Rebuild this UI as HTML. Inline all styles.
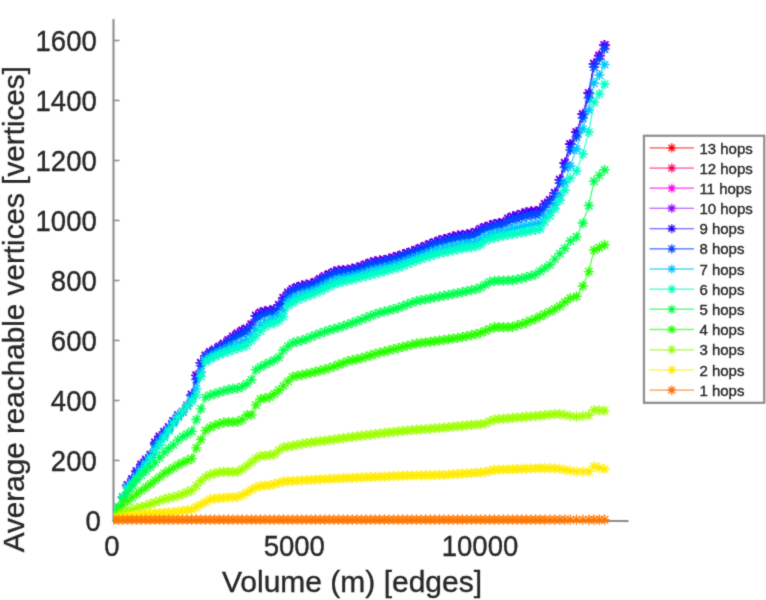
<!DOCTYPE html>
<html><head><meta charset="utf-8"><style>
html,body{margin:0;padding:0;background:#fff;width:766px;height:600px;overflow:hidden}
svg{display:block}
text{font-family:"Liberation Sans",sans-serif;fill:#262626;stroke:#262626;stroke-width:0.35px}
</style></head><body>
<svg width="766" height="600" viewBox="0 0 766 600">
<defs><filter id="bl" filterUnits="userSpaceOnUse" x="0" y="0" width="766" height="600"><feConvolveMatrix order="3" kernelMatrix="1 4 1 4 16 4 1 4 1" preserveAlpha="false"/></filter><filter id="bl2" filterUnits="userSpaceOnUse" x="0" y="0" width="766" height="600"><feConvolveMatrix order="3" kernelMatrix="1 4 1 4 16 4 1 4 1" preserveAlpha="false"/></filter><filter id="tx" filterUnits="userSpaceOnUse" x="0" y="0" width="766" height="600"><feConvolveMatrix order="3" kernelMatrix="1 3 1 3 20 3 1 3 1" preserveAlpha="false"/></filter><clipPath id="cp"><rect x="113" y="10" width="600" height="530"/></clipPath><marker id="m1" markerUnits="userSpaceOnUse" markerWidth="12" markerHeight="12" refX="6" refY="6" overflow="visible"><path d="M0.9 6H11.1M6 0.9V11.1M2.4 2.4L9.7 9.7M2.4 9.7L9.7 2.4" stroke="#ff7600" stroke-width="1.4" fill="none"/></marker>
<marker id="m2" markerUnits="userSpaceOnUse" markerWidth="12" markerHeight="12" refX="6" refY="6" overflow="visible"><path d="M0.9 6H11.1M6 0.9V11.1M2.4 2.4L9.7 9.7M2.4 9.7L9.7 2.4" stroke="#ffeb00" stroke-width="1.4" fill="none"/></marker>
<marker id="m3" markerUnits="userSpaceOnUse" markerWidth="12" markerHeight="12" refX="6" refY="6" overflow="visible"><path d="M0.9 6H11.1M6 0.9V11.1M2.4 2.4L9.7 9.7M2.4 9.7L9.7 2.4" stroke="#9dff00" stroke-width="1.4" fill="none"/></marker>
<marker id="m4" markerUnits="userSpaceOnUse" markerWidth="12" markerHeight="12" refX="6" refY="6" overflow="visible"><path d="M0.9 6H11.1M6 0.9V11.1M2.4 2.4L9.7 9.7M2.4 9.7L9.7 2.4" stroke="#27ff00" stroke-width="1.4" fill="none"/></marker>
<marker id="m5" markerUnits="userSpaceOnUse" markerWidth="12" markerHeight="12" refX="6" refY="6" overflow="visible"><path d="M0.9 6H11.1M6 0.9V11.1M2.4 2.4L9.7 9.7M2.4 9.7L9.7 2.4" stroke="#00ff4e" stroke-width="1.4" fill="none"/></marker>
<marker id="m6" markerUnits="userSpaceOnUse" markerWidth="12" markerHeight="12" refX="6" refY="6" overflow="visible"><path d="M0.9 6H11.1M6 0.9V11.1M2.4 2.4L9.7 9.7M2.4 9.7L9.7 2.4" stroke="#00ffc4" stroke-width="1.4" fill="none"/></marker>
<marker id="m7" markerUnits="userSpaceOnUse" markerWidth="12" markerHeight="12" refX="6" refY="6" overflow="visible"><path d="M0.9 6H11.1M6 0.9V11.1M2.4 2.4L9.7 9.7M2.4 9.7L9.7 2.4" stroke="#00c4ff" stroke-width="1.4" fill="none"/></marker>
<marker id="m8" markerUnits="userSpaceOnUse" markerWidth="12" markerHeight="12" refX="6" refY="6" overflow="visible"><path d="M0.9 6H11.1M6 0.9V11.1M2.4 2.4L9.7 9.7M2.4 9.7L9.7 2.4" stroke="#004eff" stroke-width="1.4" fill="none"/></marker>
<marker id="m9" markerUnits="userSpaceOnUse" markerWidth="12" markerHeight="12" refX="6" refY="6" overflow="visible"><path d="M0.9 6H11.1M6 0.9V11.1M2.4 2.4L9.7 9.7M2.4 9.7L9.7 2.4" stroke="#2700ff" stroke-width="1.4" fill="none"/></marker>
<marker id="m10" markerUnits="userSpaceOnUse" markerWidth="12" markerHeight="12" refX="6" refY="6" overflow="visible"><path d="M0.9 6H11.1M6 0.9V11.1M2.4 2.4L9.7 9.7M2.4 9.7L9.7 2.4" stroke="#9d00ff" stroke-width="1.4" fill="none"/></marker>
<marker id="m11" markerUnits="userSpaceOnUse" markerWidth="12" markerHeight="12" refX="6" refY="6" overflow="visible"><path d="M0.9 6H11.1M6 0.9V11.1M2.4 2.4L9.7 9.7M2.4 9.7L9.7 2.4" stroke="#ff00eb" stroke-width="1.4" fill="none"/></marker>
<marker id="m12" markerUnits="userSpaceOnUse" markerWidth="12" markerHeight="12" refX="6" refY="6" overflow="visible"><path d="M0.9 6H11.1M6 0.9V11.1M2.4 2.4L9.7 9.7M2.4 9.7L9.7 2.4" stroke="#ff0076" stroke-width="1.4" fill="none"/></marker>
<marker id="m13" markerUnits="userSpaceOnUse" markerWidth="12" markerHeight="12" refX="6" refY="6" overflow="visible"><path d="M0.9 6H11.1M6 0.9V11.1M2.4 2.4L9.7 9.7M2.4 9.7L9.7 2.4" stroke="#ff0000" stroke-width="1.4" fill="none"/></marker></defs>
<g filter="url(#tx)"><g font-size="29"><text transform="translate(100.8,530.6) scale(0.950,1)" text-anchor="end">0</text>
<text transform="translate(96.8,470.6) scale(0.950,1)" text-anchor="end">200</text>
<text transform="translate(96.8,410.6) scale(0.950,1)" text-anchor="end">400</text>
<text transform="translate(96.8,350.6) scale(0.950,1)" text-anchor="end">600</text>
<text transform="translate(96.8,290.6) scale(0.950,1)" text-anchor="end">800</text>
<text transform="translate(96.8,230.6) scale(0.950,1)" text-anchor="end">1000</text>
<text transform="translate(96.8,170.6) scale(0.950,1)" text-anchor="end">1200</text>
<text transform="translate(96.8,110.6) scale(0.950,1)" text-anchor="end">1400</text>
<text transform="translate(96.8,50.6) scale(0.950,1)" text-anchor="end">1600</text>
<text transform="translate(112.0,555.6) scale(0.950,1)" text-anchor="middle">0</text>
<text transform="translate(294.3,555.6) scale(0.950,1)" text-anchor="middle">5000</text>
<text transform="translate(480.0,555.6) scale(0.950,1)" text-anchor="middle">10000</text></g>
<text x="352" y="591.8" text-anchor="middle" font-size="30">Volume (m) [edges]</text>
<text transform="translate(23.8,309.2) rotate(-90)" x="0" y="0" text-anchor="middle" font-size="29.7">Average reachable vertices [vertices]</text></g>
<g filter="url(#bl2)"><line x1="113.5" y1="19" x2="113.5" y2="522" stroke="#888" stroke-width="2"/>
<line x1="112.5" y1="521" x2="628.5" y2="521" stroke="#888" stroke-width="2"/>
<line x1="113" y1="520.5" x2="119.5" y2="520.5" stroke="#888" stroke-width="1.5"/>
<line x1="113" y1="460.5" x2="119.5" y2="460.5" stroke="#888" stroke-width="1.5"/>
<line x1="113" y1="400.5" x2="119.5" y2="400.5" stroke="#888" stroke-width="1.5"/>
<line x1="113" y1="340.5" x2="119.5" y2="340.5" stroke="#888" stroke-width="1.5"/>
<line x1="113" y1="280.5" x2="119.5" y2="280.5" stroke="#888" stroke-width="1.5"/>
<line x1="113" y1="220.5" x2="119.5" y2="220.5" stroke="#888" stroke-width="1.5"/>
<line x1="113" y1="160.5" x2="119.5" y2="160.5" stroke="#888" stroke-width="1.5"/>
<line x1="113" y1="100.5" x2="119.5" y2="100.5" stroke="#888" stroke-width="1.5"/>
<line x1="113" y1="40.5" x2="119.5" y2="40.5" stroke="#888" stroke-width="1.5"/></g>
<g filter="url(#bl)" clip-path="url(#cp)"><g transform="translate(0.3,1)"><polyline points="113.5,518.0 118.1,507.7 122.7,496.3 127.3,484.0 131.8,478.0 136.4,470.2 141.0,463.5 145.6,458.5 150.2,453.9 154.8,441.6 159.3,435.5 163.9,430.9 168.5,426.2 173.1,420.2 177.7,414.3 182.3,410.8 186.9,404.5 191.4,393.7 196.0,374.4 200.6,361.8 205.2,354.6 209.8,351.1 214.4,348.4 219.0,345.7 223.5,342.7 228.1,339.1 232.7,335.5 237.3,332.4 241.9,329.5 246.5,327.5 251.1,323.4 255.6,314.6 260.2,311.7 264.8,310.4 269.4,309.6 274.0,308.6 278.6,303.8 283.1,296.8 287.7,291.5 292.3,288.0 296.9,286.2 301.5,284.7 306.1,283.8 310.7,282.9 315.2,280.9 319.8,277.9 324.4,275.2 329.0,273.0 333.6,270.8 338.2,269.7 342.8,269.3 347.3,268.9 351.9,267.9 356.5,266.8 361.1,265.4 365.7,263.4 370.3,261.5 374.8,260.5 379.4,259.7 384.0,259.0 388.6,257.9 393.2,256.5 397.8,255.1 402.4,253.6 406.9,252.1 411.5,250.6 416.1,248.8 420.7,246.9 425.3,244.9 429.9,243.0 434.4,241.0 439.0,239.5 443.6,238.3 448.2,237.0 452.8,235.7 457.4,234.7 462.0,234.0 466.5,233.4 471.1,232.7 475.7,230.9 480.3,227.8 484.9,226.1 489.5,224.5 494.1,223.0 498.6,222.0 503.2,221.5 507.8,217.5 512.4,215.4 517.0,214.5 521.6,212.9 526.1,211.4 530.7,210.7 535.3,210.2 539.9,209.1 544.5,202.8 549.5,198.8 554.5,191.8 559.5,178.6 564.5,161.9 570.0,143.0 576.2,131.0 582.5,113.0 588.5,92.0 593.7,62.7 599.0,54.5 604.2,44.0" fill="none" stroke="#ff0000" stroke-width="1" marker-start="url(#m13)" marker-mid="url(#m13)" marker-end="url(#m13)"/>
<polyline points="113.5,518.0 118.1,507.7 122.7,496.3 127.3,484.0 131.8,478.0 136.4,470.2 141.0,463.5 145.6,458.5 150.2,453.9 154.8,441.6 159.3,435.5 163.9,430.9 168.5,426.2 173.1,420.2 177.7,414.3 182.3,410.8 186.9,404.5 191.4,393.7 196.0,374.4 200.6,361.8 205.2,354.6 209.8,351.1 214.4,348.4 219.0,345.7 223.5,342.7 228.1,339.1 232.7,335.5 237.3,332.4 241.9,329.5 246.5,327.5 251.1,323.4 255.6,314.6 260.2,311.7 264.8,310.4 269.4,309.6 274.0,308.6 278.6,303.8 283.1,296.8 287.7,291.5 292.3,288.0 296.9,286.2 301.5,284.7 306.1,283.8 310.7,282.9 315.2,280.9 319.8,277.9 324.4,275.2 329.0,273.0 333.6,270.8 338.2,269.7 342.8,269.3 347.3,268.9 351.9,267.9 356.5,266.8 361.1,265.4 365.7,263.4 370.3,261.5 374.8,260.5 379.4,259.7 384.0,259.0 388.6,257.9 393.2,256.5 397.8,255.1 402.4,253.6 406.9,252.1 411.5,250.6 416.1,248.8 420.7,246.9 425.3,244.9 429.9,243.0 434.4,241.0 439.0,239.5 443.6,238.3 448.2,237.0 452.8,235.7 457.4,234.7 462.0,234.0 466.5,233.4 471.1,232.7 475.7,230.9 480.3,227.8 484.9,226.1 489.5,224.5 494.1,223.0 498.6,222.0 503.2,221.5 507.8,217.5 512.4,215.4 517.0,214.5 521.6,212.9 526.1,211.4 530.7,210.7 535.3,210.2 539.9,209.1 544.5,202.8 549.5,198.8 554.5,191.8 559.5,178.6 564.5,161.9 570.0,143.0 576.2,131.0 582.5,113.0 588.5,92.0 593.7,62.7 599.0,54.5 604.2,44.0" fill="none" stroke="#ff0076" stroke-width="1" marker-start="url(#m12)" marker-mid="url(#m12)" marker-end="url(#m12)"/>
<polyline points="113.5,518.0 118.1,507.7 122.7,496.3 127.3,484.0 131.8,478.0 136.4,470.2 141.0,463.5 145.6,458.5 150.2,453.9 154.8,441.6 159.3,435.5 163.9,430.9 168.5,426.2 173.1,420.2 177.7,414.3 182.3,410.8 186.9,404.5 191.4,393.7 196.0,374.4 200.6,361.8 205.2,354.6 209.8,351.1 214.4,348.4 219.0,345.7 223.5,342.7 228.1,339.1 232.7,335.5 237.3,332.4 241.9,329.5 246.5,327.5 251.1,323.4 255.6,314.6 260.2,311.7 264.8,310.4 269.4,309.6 274.0,308.6 278.6,303.8 283.1,296.8 287.7,291.5 292.3,288.0 296.9,286.2 301.5,284.7 306.1,283.8 310.7,282.9 315.2,280.9 319.8,277.9 324.4,275.2 329.0,273.0 333.6,270.8 338.2,269.7 342.8,269.3 347.3,268.9 351.9,267.9 356.5,266.8 361.1,265.4 365.7,263.4 370.3,261.5 374.8,260.5 379.4,259.7 384.0,259.0 388.6,257.9 393.2,256.5 397.8,255.1 402.4,253.6 406.9,252.1 411.5,250.6 416.1,248.8 420.7,246.9 425.3,244.9 429.9,243.0 434.4,241.0 439.0,239.5 443.6,238.3 448.2,237.0 452.8,235.7 457.4,234.7 462.0,234.0 466.5,233.4 471.1,232.7 475.7,230.9 480.3,227.8 484.9,226.1 489.5,224.5 494.1,223.0 498.6,222.0 503.2,221.5 507.8,217.5 512.4,215.4 517.0,214.5 521.6,212.9 526.1,211.4 530.7,210.7 535.3,210.2 539.9,209.1 544.5,202.8 549.5,198.8 554.5,191.8 559.5,178.6 564.5,161.9 570.0,143.0 576.2,131.0 582.5,113.0 588.5,92.0 593.7,62.7 599.0,54.5 604.2,44.0" fill="none" stroke="#ff00eb" stroke-width="1" marker-start="url(#m11)" marker-mid="url(#m11)" marker-end="url(#m11)"/>
<polyline points="113.5,518.0 118.1,507.7 122.7,496.3 127.3,484.0 131.8,478.0 136.4,470.2 141.0,463.5 145.6,458.5 150.2,453.9 154.8,441.6 159.3,435.5 163.9,430.9 168.5,426.2 173.1,420.2 177.7,414.3 182.3,410.8 186.9,404.5 191.4,393.7 196.0,374.4 200.6,361.8 205.2,354.6 209.8,351.1 214.4,348.4 219.0,345.7 223.5,342.7 228.1,339.1 232.7,335.5 237.3,332.4 241.9,329.5 246.5,327.5 251.1,323.4 255.6,314.6 260.2,311.7 264.8,310.4 269.4,309.6 274.0,308.6 278.6,303.8 283.1,296.8 287.7,291.5 292.3,288.0 296.9,286.2 301.5,284.7 306.1,283.8 310.7,282.9 315.2,280.9 319.8,277.9 324.4,275.2 329.0,273.0 333.6,270.8 338.2,269.7 342.8,269.3 347.3,268.9 351.9,267.9 356.5,266.8 361.1,265.4 365.7,263.4 370.3,261.5 374.8,260.5 379.4,259.7 384.0,259.0 388.6,257.9 393.2,256.5 397.8,255.1 402.4,253.6 406.9,252.1 411.5,250.6 416.1,248.8 420.7,246.9 425.3,244.9 429.9,243.0 434.4,241.0 439.0,239.5 443.6,238.3 448.2,237.0 452.8,235.7 457.4,234.7 462.0,234.0 466.5,233.4 471.1,232.7 475.7,230.9 480.3,227.8 484.9,226.1 489.5,224.5 494.1,223.0 498.6,222.0 503.2,221.5 507.8,217.5 512.4,215.4 517.0,214.5 521.6,212.9 526.1,211.4 530.7,210.7 535.3,210.2 539.9,209.1 544.5,202.8 549.5,198.8 554.5,191.8 559.5,178.6 564.5,161.9 570.0,143.0 576.2,131.0 582.5,113.0 588.5,92.0 593.7,62.7 599.0,54.5 604.2,44.0" fill="none" stroke="#9d00ff" stroke-width="1" marker-start="url(#m10)" marker-mid="url(#m10)" marker-end="url(#m10)"/>
<polyline points="113.5,518.0 118.1,507.7 122.7,496.3 127.3,484.1 131.8,478.1 136.4,470.2 141.0,463.6 145.6,458.6 150.2,453.9 154.8,441.7 159.3,435.5 163.9,430.9 168.5,426.2 173.1,420.2 177.7,414.3 182.3,410.8 186.9,404.5 191.4,393.7 196.0,374.6 200.6,361.9 205.2,354.6 209.8,351.2 214.4,348.5 219.0,345.8 223.5,342.8 228.1,339.2 232.7,335.7 237.3,332.5 241.9,329.6 246.5,327.7 251.1,323.6 255.6,314.8 260.2,311.9 264.8,310.5 269.4,309.7 274.0,308.7 278.6,304.0 283.1,297.0 287.7,291.6 292.3,288.1 296.9,286.3 301.5,284.8 306.1,283.9 310.7,283.0 315.2,281.0 319.8,278.1 324.4,275.3 329.0,273.1 333.6,270.9 338.2,269.8 342.8,269.4 347.3,269.1 351.9,268.0 356.5,266.9 361.1,265.5 365.7,263.5 370.3,261.6 374.8,260.6 379.4,259.8 384.0,259.1 388.6,258.0 393.2,256.6 397.8,255.2 402.4,253.7 406.9,252.2 411.5,250.7 416.1,248.9 420.7,247.0 425.3,245.0 429.9,243.1 434.4,241.2 439.0,239.7 443.6,238.4 448.2,237.1 452.8,235.9 457.4,234.8 462.0,234.1 466.5,233.5 471.1,232.8 475.7,231.0 480.3,228.0 484.9,226.2 489.5,224.7 494.1,223.1 498.6,222.2 503.2,221.6 507.8,217.6 512.4,215.6 517.0,214.7 521.6,213.1 526.1,211.6 530.7,210.9 535.3,210.4 539.9,209.3 544.5,203.0 549.5,199.2 554.5,192.1 559.5,178.9 564.5,162.2 570.0,143.3 576.2,131.3 582.5,113.3 588.5,92.3 593.7,63.0 599.0,54.8 604.2,44.3" fill="none" stroke="#2700ff" stroke-width="1" marker-start="url(#m9)" marker-mid="url(#m9)" marker-end="url(#m9)"/>
<polyline points="113.5,518.0 118.1,507.7 122.7,496.3 127.3,484.7 131.8,479.0 136.4,471.7 141.0,465.1 145.6,459.7 150.2,454.6 154.8,443.5 159.3,437.2 163.9,432.1 168.5,427.0 173.1,420.7 177.7,414.7 182.3,410.8 186.9,404.7 191.4,395.0 196.0,378.5 200.6,364.6 205.2,355.9 209.8,352.6 214.4,349.9 219.0,347.4 223.5,344.6 228.1,341.4 232.7,338.3 237.3,335.5 241.9,332.9 246.5,331.0 251.1,326.8 255.6,318.8 260.2,315.5 264.8,313.6 269.4,312.4 274.0,311.4 278.6,307.1 283.1,300.8 287.7,294.2 292.3,290.8 296.9,288.9 301.5,287.3 306.1,286.2 310.7,285.1 315.2,283.2 319.8,280.5 324.4,277.8 329.0,275.6 333.6,273.4 338.2,272.2 342.8,271.7 347.3,271.2 351.9,270.1 356.5,269.0 361.1,267.7 365.7,265.9 370.3,264.1 374.8,263.0 379.4,262.2 384.0,261.3 388.6,260.2 393.2,258.8 397.8,257.5 402.4,255.9 406.9,254.4 411.5,252.8 416.1,251.0 420.7,249.2 425.3,247.3 429.9,245.5 434.4,243.6 439.0,242.2 443.6,241.0 448.2,239.8 452.8,238.6 457.4,237.5 462.0,236.8 466.5,236.1 471.1,235.5 475.7,233.9 480.3,231.1 484.9,228.9 489.5,227.3 494.1,225.9 498.6,224.9 503.2,224.2 507.8,220.9 512.4,219.1 517.0,218.2 521.6,216.8 526.1,215.4 530.7,214.6 535.3,214.1 539.9,213.0 544.5,206.5 549.5,201.7 554.5,194.7 559.5,182.3 564.5,166.5 570.0,149.0 576.2,136.0 582.5,117.0 588.5,97.0 593.7,66.0 599.0,58.0 604.2,48.0" fill="none" stroke="#004eff" stroke-width="1" marker-start="url(#m8)" marker-mid="url(#m8)" marker-end="url(#m8)"/>
<polyline points="113.5,518.0 118.1,507.7 122.7,496.3 127.3,486.3 131.8,481.3 136.4,475.2 141.0,468.7 145.6,462.5 150.2,456.3 154.8,447.8 159.3,441.1 163.9,435.0 168.5,428.7 173.1,422.0 177.7,415.7 182.3,410.8 186.9,405.1 191.4,398.2 196.0,387.9 200.6,371.0 205.2,358.9 209.8,355.9 214.4,353.3 219.0,351.2 223.5,349.0 228.1,346.8 232.7,344.6 237.3,342.5 241.9,340.7 246.5,338.9 251.1,334.5 255.6,328.4 260.2,324.2 264.8,320.9 269.4,318.6 274.0,317.9 278.6,314.7 283.1,309.7 287.7,300.4 292.3,297.4 296.9,295.0 301.5,293.2 306.1,291.7 310.7,290.3 315.2,288.5 319.8,286.3 324.4,283.9 329.0,281.6 333.6,279.4 338.2,278.0 342.8,277.1 347.3,276.2 351.9,275.1 356.5,274.0 361.1,272.8 365.7,271.4 370.3,270.0 374.8,268.9 379.4,267.8 384.0,266.7 388.6,265.5 393.2,264.2 397.8,262.9 402.4,261.3 406.9,259.6 411.5,257.9 416.1,256.2 420.7,254.5 425.3,252.8 429.9,251.2 434.4,249.6 439.0,248.3 443.6,247.2 448.2,246.1 452.8,245.0 457.4,244.0 462.0,243.1 466.5,242.5 471.1,241.8 475.7,240.8 480.3,238.5 484.9,235.4 489.5,233.7 494.1,232.4 498.6,231.3 503.2,230.5 507.8,228.7 512.4,227.5 517.0,226.7 521.6,225.6 526.1,224.5 530.7,223.7 535.3,222.9 539.9,222.0 544.5,215.3 549.5,210.9 554.5,203.7 559.5,194.6 564.5,181.5 570.0,165.0 576.2,148.0 582.5,128.0 588.5,109.0 593.7,82.0 599.0,74.0 604.2,63.5" fill="none" stroke="#00c4ff" stroke-width="1" marker-start="url(#m7)" marker-mid="url(#m7)" marker-end="url(#m7)"/>
<polyline points="113.5,518.0 118.1,507.7 122.7,496.3 127.3,487.4 131.8,482.8 136.4,477.6 141.0,471.1 145.6,464.4 150.2,457.5 154.8,450.6 159.3,443.7 163.9,436.9 168.5,429.9 173.1,422.9 177.7,416.3 182.3,410.8 186.9,405.4 191.4,400.3 196.0,394.1 200.6,375.3 205.2,360.9 209.8,358.1 214.4,355.6 219.0,353.7 223.5,352.0 228.1,350.4 232.7,348.8 237.3,347.2 241.9,346.0 246.5,344.2 251.1,339.6 255.6,334.8 260.2,330.0 264.8,325.7 269.4,322.8 274.0,322.3 278.6,319.8 283.1,315.6 287.7,304.6 292.3,301.7 296.9,299.1 301.5,297.1 306.1,295.4 310.7,293.7 315.2,292.0 319.8,290.1 324.4,287.9 329.0,285.7 333.6,283.4 338.2,281.8 342.8,280.7 347.3,279.6 351.9,278.5 356.5,277.4 361.1,276.2 365.7,275.1 370.3,273.9 374.8,272.8 379.4,271.5 384.0,270.3 388.6,269.0 393.2,267.7 397.8,266.5 402.4,264.8 406.9,263.1 411.5,261.4 416.1,259.6 420.7,258.0 425.3,256.5 429.9,255.0 434.4,253.5 439.0,252.3 443.6,251.3 448.2,250.3 452.8,249.3 457.4,248.3 462.0,247.4 466.5,246.7 471.1,246.1 475.7,245.4 480.3,243.5 484.9,239.7 489.5,237.9 494.1,236.7 498.6,235.6 503.2,234.6 507.8,233.9 512.4,233.1 517.0,232.3 521.6,231.4 526.1,230.5 530.7,229.7 535.3,228.8 539.9,227.9 544.5,220.9 549.5,214.9 554.5,208.0 559.5,199.3 564.5,189.2 570.0,177.0 576.2,170.0 582.5,153.0 588.5,131.0 593.7,101.0 599.0,93.0 604.2,83.0" fill="none" stroke="#00ffc4" stroke-width="1" marker-start="url(#m6)" marker-mid="url(#m6)" marker-end="url(#m6)"/>
<polyline points="113.5,514.0 118.1,505.7 122.7,497.3 127.3,491.0 131.8,484.9 136.4,478.8 141.0,474.0 145.6,469.9 150.2,465.8 154.8,461.6 159.3,456.5 163.9,451.4 168.5,447.3 173.1,443.9 177.7,439.1 182.3,435.6 186.9,433.2 191.4,430.2 196.0,418.5 200.6,407.9 205.2,396.4 209.8,394.1 214.4,392.7 219.0,391.3 223.5,389.9 228.1,388.6 232.7,387.7 237.3,387.3 241.9,385.6 246.5,382.8 251.1,378.7 255.6,368.8 260.2,365.9 264.8,363.6 269.4,361.3 274.0,359.0 278.6,356.2 283.1,349.3 287.7,345.2 292.3,341.9 296.9,340.7 301.5,339.4 306.1,337.8 310.7,335.9 315.2,334.1 319.8,332.3 324.4,330.6 329.0,329.2 333.6,327.8 338.2,326.5 342.8,325.1 347.3,323.5 351.9,321.9 356.5,320.2 361.1,318.6 365.7,316.7 370.3,314.8 374.8,313.0 379.4,311.6 384.0,310.5 388.6,309.4 393.2,308.2 397.8,306.8 402.4,305.1 406.9,303.4 411.5,301.7 416.1,300.0 420.7,299.1 425.3,298.3 429.9,297.4 434.4,296.5 439.0,295.6 443.6,294.7 448.2,293.8 452.8,292.9 457.4,292.0 462.0,291.0 466.5,290.1 471.1,289.1 475.7,288.1 480.3,286.4 484.9,283.7 489.5,280.9 494.1,279.9 498.6,279.7 503.2,279.6 507.8,279.4 512.4,279.2 517.0,278.3 521.6,277.3 526.1,276.1 530.7,274.8 535.3,273.3 539.9,270.2 544.5,267.1 549.5,263.8 554.5,258.1 559.5,252.5 564.5,247.3 570.0,240.0 576.2,235.9 582.5,222.0 588.5,204.5 593.7,180.2 599.0,174.4 604.2,168.8" fill="none" stroke="#00ff4e" stroke-width="1" marker-start="url(#m5)" marker-mid="url(#m5)" marker-end="url(#m5)"/>
<polyline points="113.5,515.0 118.1,509.4 122.7,503.9 127.3,500.2 131.8,496.5 136.4,492.9 141.0,489.5 145.6,486.2 150.2,482.8 154.8,479.4 159.3,475.9 163.9,472.4 168.5,469.5 173.1,466.9 177.7,464.1 182.3,461.5 186.9,459.5 191.4,457.6 196.0,446.9 200.6,438.5 205.2,429.6 209.8,426.3 214.4,424.3 219.0,422.8 223.5,421.4 228.1,421.0 232.7,421.0 237.3,420.6 241.9,418.7 246.5,414.0 251.1,413.9 255.6,404.1 260.2,398.0 264.8,397.0 269.4,396.1 274.0,392.8 278.6,389.2 283.1,384.9 287.7,380.3 292.3,375.9 296.9,374.9 301.5,373.9 306.1,372.9 310.7,371.8 315.2,370.7 319.8,369.5 324.4,368.4 329.0,367.1 333.6,365.4 338.2,363.7 342.8,362.0 347.3,360.2 351.9,359.2 356.5,358.2 361.1,357.2 365.7,355.7 370.3,354.3 374.8,352.9 379.4,351.6 384.0,350.5 388.6,349.4 393.2,348.2 397.8,347.1 402.4,345.9 406.9,344.8 411.5,343.6 416.1,342.5 420.7,341.9 425.3,341.3 429.9,340.8 434.4,340.2 439.0,339.5 443.6,338.9 448.2,338.2 452.8,337.5 457.4,336.8 462.0,336.0 466.5,335.1 471.1,334.1 475.7,333.1 480.3,331.8 484.9,329.8 489.5,327.9 494.1,326.2 498.6,326.2 503.2,326.1 507.8,326.1 512.4,325.8 517.0,324.4 521.6,323.0 526.1,321.4 530.7,319.5 535.3,317.6 539.9,315.3 544.5,313.1 549.5,310.6 554.5,308.1 559.5,305.2 564.5,301.0 570.0,297.0 576.2,295.3 582.5,285.0 588.5,270.6 593.7,249.0 599.0,246.6 604.2,243.8" fill="none" stroke="#27ff00" stroke-width="1" marker-start="url(#m4)" marker-mid="url(#m4)" marker-end="url(#m4)"/>
<polyline points="113.5,517.0 118.1,514.1 122.7,511.2 127.3,509.8 131.8,508.5 136.4,507.1 141.0,505.8 145.6,504.5 150.2,502.9 154.8,501.3 159.3,499.7 163.9,498.0 168.5,496.9 173.1,496.0 177.7,494.6 182.3,493.1 186.9,491.1 191.4,489.2 196.0,484.7 200.6,479.8 205.2,476.1 209.8,473.5 214.4,472.3 219.0,471.2 223.5,470.8 228.1,470.8 232.7,470.8 237.3,470.8 241.9,468.0 246.5,464.9 251.1,461.2 255.6,457.4 260.2,454.9 264.8,454.6 269.4,454.2 274.0,453.0 278.6,449.3 283.1,446.4 287.7,445.5 292.3,444.6 296.9,443.8 301.5,442.9 306.1,442.1 310.7,441.4 315.2,440.8 319.8,440.2 324.4,439.6 329.0,439.0 333.6,438.3 338.2,437.7 342.8,437.1 347.3,436.5 351.9,435.9 356.5,435.3 361.1,434.7 365.7,434.2 370.3,433.6 374.8,433.1 379.4,432.5 384.0,431.9 388.6,431.4 393.2,430.8 397.8,430.3 402.4,429.8 406.9,429.5 411.5,429.1 416.1,428.7 420.7,428.4 425.3,428.0 429.9,427.6 434.4,427.3 439.0,426.9 443.6,426.5 448.2,426.0 452.8,425.6 457.4,425.2 462.0,424.8 466.5,424.3 471.1,423.9 475.7,423.5 480.3,423.0 484.9,422.6 489.5,420.1 494.1,418.5 498.6,418.1 503.2,417.7 507.8,417.3 512.4,416.9 517.0,416.5 521.6,416.1 526.1,415.7 530.7,415.3 535.3,414.9 539.9,414.5 544.5,414.0 549.5,413.5 554.5,413.0 559.5,413.1 564.5,413.9 570.0,414.9 576.2,415.6 582.5,414.9 588.5,414.2 593.7,409.0 599.0,409.4 604.2,409.7" fill="none" stroke="#9dff00" stroke-width="1" marker-start="url(#m3)" marker-mid="url(#m3)" marker-end="url(#m3)"/>
<polyline points="113.5,518.0 118.1,517.0 122.7,516.1 127.3,514.9 131.8,514.1 136.4,513.6 141.0,513.2 145.6,512.7 150.2,512.3 154.8,512.0 159.3,511.8 163.9,511.5 168.5,511.3 173.1,511.0 177.7,510.4 182.3,509.8 186.9,509.1 191.4,508.5 196.0,506.2 200.6,503.5 205.2,500.8 209.8,498.2 214.4,497.7 219.0,497.2 223.5,496.8 228.1,496.4 232.7,496.2 237.3,495.9 241.9,494.2 246.5,491.5 251.1,488.9 255.6,486.3 260.2,484.8 264.8,484.5 269.4,484.2 274.0,483.1 278.6,481.6 283.1,480.4 287.7,480.2 292.3,479.9 296.9,479.6 301.5,479.4 306.1,479.1 310.7,478.8 315.2,478.6 319.8,478.4 324.4,478.1 329.0,477.9 333.6,477.7 338.2,477.5 342.8,477.2 347.3,477.0 351.9,476.8 356.5,476.6 361.1,476.4 365.7,476.2 370.3,476.0 374.8,475.8 379.4,475.6 384.0,475.5 388.6,475.3 393.2,475.1 397.8,474.9 402.4,474.7 406.9,474.6 411.5,474.5 416.1,474.4 420.7,474.3 425.3,474.2 429.9,474.1 434.4,474.0 439.0,473.9 443.6,473.8 448.2,473.5 452.8,473.2 457.4,472.9 462.0,472.6 466.5,472.3 471.1,472.0 475.7,471.7 480.3,471.4 484.9,471.1 489.5,469.7 494.1,468.9 498.6,468.7 503.2,468.5 507.8,468.3 512.4,468.2 517.0,468.0 521.6,467.8 526.1,467.6 530.7,467.5 535.3,467.3 539.9,467.1 544.5,467.2 549.5,467.3 554.5,467.4 559.5,467.9 564.5,468.8 570.0,469.7 576.2,470.5 582.5,470.5 588.5,470.5 593.7,465.4 599.0,466.7 604.2,468.0" fill="none" stroke="#ffeb00" stroke-width="1" marker-start="url(#m2)" marker-mid="url(#m2)" marker-end="url(#m2)"/>
<polyline points="113.5,518.7 118.1,518.7 122.7,518.7 127.3,518.7 131.8,518.7 136.4,518.7 141.0,518.7 145.6,518.7 150.2,518.7 154.8,518.7 159.3,518.7 163.9,518.7 168.5,518.7 173.1,518.7 177.7,518.7 182.3,518.7 186.9,518.7 191.4,518.7 196.0,518.7 200.6,518.7 205.2,518.7 209.8,518.7 214.4,518.7 219.0,518.7 223.5,518.7 228.1,518.7 232.7,518.7 237.3,518.7 241.9,518.7 246.5,518.7 251.1,518.7 255.6,518.7 260.2,518.7 264.8,518.7 269.4,518.7 274.0,518.7 278.6,518.7 283.1,518.7 287.7,518.7 292.3,518.7 296.9,518.7 301.5,518.7 306.1,518.7 310.7,518.7 315.2,518.7 319.8,518.7 324.4,518.7 329.0,518.7 333.6,518.7 338.2,518.7 342.8,518.7 347.3,518.7 351.9,518.7 356.5,518.7 361.1,518.7 365.7,518.7 370.3,518.7 374.8,518.7 379.4,518.7 384.0,518.7 388.6,518.7 393.2,518.7 397.8,518.7 402.4,518.7 406.9,518.7 411.5,518.7 416.1,518.7 420.7,518.7 425.3,518.7 429.9,518.7 434.4,518.7 439.0,518.7 443.6,518.7 448.2,518.7 452.8,518.7 457.4,518.7 462.0,518.7 466.5,518.7 471.1,518.7 475.7,518.7 480.3,518.7 484.9,518.7 489.5,518.7 494.1,518.7 498.6,518.7 503.2,518.7 507.8,518.7 512.4,518.7 517.0,518.7 521.6,518.7 526.1,518.7 530.7,518.7 535.3,518.7 539.9,518.7 544.5,518.7 549.5,518.7 554.5,518.7 559.5,518.7 564.5,518.7 570.0,518.7 576.2,518.7 582.5,518.7 588.5,518.7 593.7,518.7 599.0,518.7 604.2,518.7" fill="none" stroke="#ff7600" stroke-width="1" marker-start="url(#m1)" marker-mid="url(#m1)" marker-end="url(#m1)"/></g></g>
<g filter="url(#bl2)"><rect x="644" y="135.8" width="120.2" height="267" fill="#fff" stroke="#888" stroke-width="2.2"/>
<line x1="649.5" y1="147.9" x2="694" y2="147.9" stroke="#ff0000" stroke-width="1.4" opacity="0.8"/>
<path d="M667.1 147.9h9.2M671.7 143.3v9.2M668.4 144.6l6.6 6.6M668.4 151.2l6.6 -6.6" stroke="#ff0000" stroke-width="1.6" fill="none"/>
<line x1="649.5" y1="168.1" x2="694" y2="168.1" stroke="#ff0076" stroke-width="1.4" opacity="0.8"/>
<path d="M667.1 168.1h9.2M671.7 163.5v9.2M668.4 164.8l6.6 6.6M668.4 171.4l6.6 -6.6" stroke="#ff0076" stroke-width="1.6" fill="none"/>
<line x1="649.5" y1="188.3" x2="694" y2="188.3" stroke="#ff00eb" stroke-width="1.4" opacity="0.8"/>
<path d="M667.1 188.3h9.2M671.7 183.7v9.2M668.4 185.0l6.6 6.6M668.4 191.6l6.6 -6.6" stroke="#ff00eb" stroke-width="1.6" fill="none"/>
<line x1="649.5" y1="208.4" x2="694" y2="208.4" stroke="#9d00ff" stroke-width="1.4" opacity="0.8"/>
<path d="M667.1 208.4h9.2M671.7 203.8v9.2M668.4 205.1l6.6 6.6M668.4 211.7l6.6 -6.6" stroke="#9d00ff" stroke-width="1.6" fill="none"/>
<line x1="649.5" y1="228.6" x2="694" y2="228.6" stroke="#2700ff" stroke-width="1.4" opacity="0.8"/>
<path d="M667.1 228.6h9.2M671.7 224.0v9.2M668.4 225.3l6.6 6.6M668.4 231.9l6.6 -6.6" stroke="#2700ff" stroke-width="1.6" fill="none"/>
<line x1="649.5" y1="248.8" x2="694" y2="248.8" stroke="#004eff" stroke-width="1.4" opacity="0.8"/>
<path d="M667.1 248.8h9.2M671.7 244.2v9.2M668.4 245.5l6.6 6.6M668.4 252.1l6.6 -6.6" stroke="#004eff" stroke-width="1.6" fill="none"/>
<line x1="649.5" y1="269.0" x2="694" y2="269.0" stroke="#00c4ff" stroke-width="1.4" opacity="0.8"/>
<path d="M667.1 269.0h9.2M671.7 264.4v9.2M668.4 265.7l6.6 6.6M668.4 272.3l6.6 -6.6" stroke="#00c4ff" stroke-width="1.6" fill="none"/>
<line x1="649.5" y1="289.2" x2="694" y2="289.2" stroke="#00ffc4" stroke-width="1.4" opacity="0.8"/>
<path d="M667.1 289.2h9.2M671.7 284.6v9.2M668.4 285.9l6.6 6.6M668.4 292.5l6.6 -6.6" stroke="#00ffc4" stroke-width="1.6" fill="none"/>
<line x1="649.5" y1="309.3" x2="694" y2="309.3" stroke="#00ff4e" stroke-width="1.4" opacity="0.8"/>
<path d="M667.1 309.3h9.2M671.7 304.7v9.2M668.4 306.0l6.6 6.6M668.4 312.6l6.6 -6.6" stroke="#00ff4e" stroke-width="1.6" fill="none"/>
<line x1="649.5" y1="329.5" x2="694" y2="329.5" stroke="#27ff00" stroke-width="1.4" opacity="0.8"/>
<path d="M667.1 329.5h9.2M671.7 324.9v9.2M668.4 326.2l6.6 6.6M668.4 332.8l6.6 -6.6" stroke="#27ff00" stroke-width="1.6" fill="none"/>
<line x1="649.5" y1="349.7" x2="694" y2="349.7" stroke="#9dff00" stroke-width="1.4" opacity="0.8"/>
<path d="M667.1 349.7h9.2M671.7 345.1v9.2M668.4 346.4l6.6 6.6M668.4 353.0l6.6 -6.6" stroke="#9dff00" stroke-width="1.6" fill="none"/>
<line x1="649.5" y1="369.9" x2="694" y2="369.9" stroke="#ffeb00" stroke-width="1.4" opacity="0.8"/>
<path d="M667.1 369.9h9.2M671.7 365.3v9.2M668.4 366.6l6.6 6.6M668.4 373.2l6.6 -6.6" stroke="#ffeb00" stroke-width="1.6" fill="none"/>
<line x1="649.5" y1="390.1" x2="694" y2="390.1" stroke="#ff7600" stroke-width="1.4" opacity="0.8"/>
<path d="M667.1 390.1h9.2M671.7 385.5v9.2M668.4 386.8l6.6 6.6M668.4 393.4l6.6 -6.6" stroke="#ff7600" stroke-width="1.6" fill="none"/></g>
<g filter="url(#tx)"><text x="699.4" y="153.5" font-size="15">13 hops</text>
<text x="699.4" y="173.7" font-size="15">12 hops</text>
<text x="699.4" y="193.9" font-size="15">11 hops</text>
<text x="699.4" y="214.0" font-size="15">10 hops</text>
<text x="699.4" y="234.2" font-size="15">9 hops</text>
<text x="699.4" y="254.4" font-size="15">8 hops</text>
<text x="699.4" y="274.6" font-size="15">7 hops</text>
<text x="699.4" y="294.8" font-size="15">6 hops</text>
<text x="699.4" y="314.9" font-size="15">5 hops</text>
<text x="699.4" y="335.1" font-size="15">4 hops</text>
<text x="699.4" y="355.3" font-size="15">3 hops</text>
<text x="699.4" y="375.5" font-size="15">2 hops</text>
<text x="699.4" y="395.7" font-size="15">1 hops</text></g>
</svg>
</body></html>
